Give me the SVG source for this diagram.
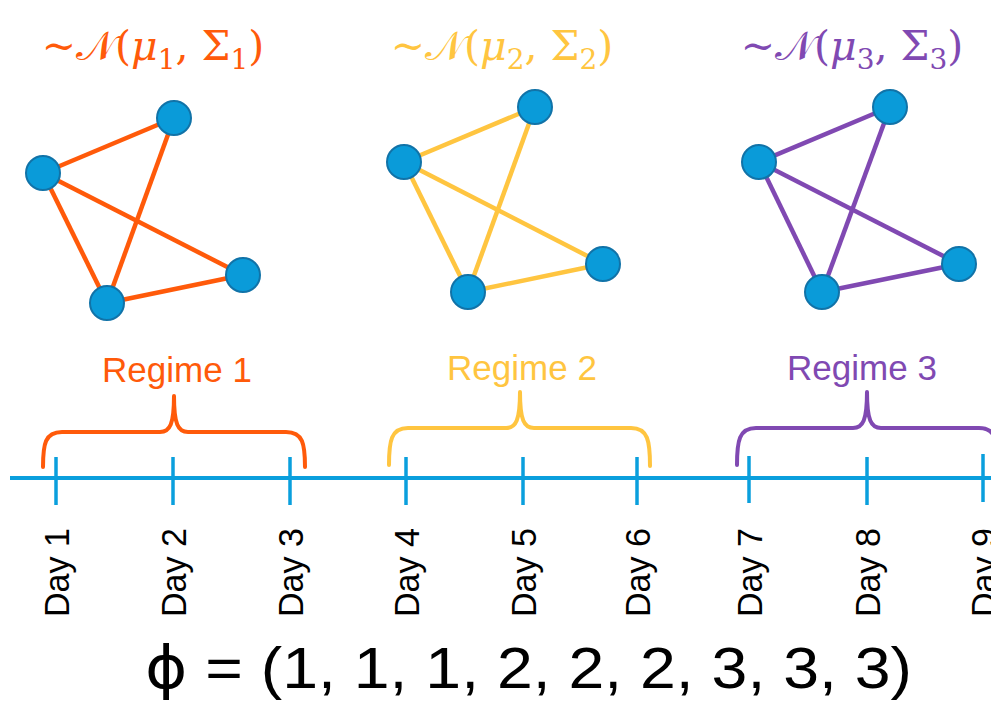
<svg xmlns="http://www.w3.org/2000/svg" width="991" height="702" viewBox="0 0 991 702">
<style>
.node{fill:#0A9BD9;stroke:#1173A8;stroke-width:2}
.e1{stroke:#FF5A0A;stroke-width:4.5;fill:none}
.e2{stroke:#FFC540;stroke-width:4.5;fill:none}
.e3{stroke:#8049B2;stroke-width:4.5;fill:none}
.brace{fill:none;stroke-width:4;stroke-linecap:round;stroke-linejoin:round}
.axis{stroke:#0A9FDD;stroke-width:4}
.tick{stroke:#0A9FDD;stroke-width:3.5}
.day{font-family:"Liberation Sans",Arial,sans-serif;font-size:35px;fill:#000}
.reg{font-family:"Liberation Sans",Arial,sans-serif;font-size:35px;text-anchor:middle}
.dist{font-family:"DejaVu Serif","Liberation Serif",serif;font-size:41px;text-anchor:middle}
.sub{font-size:28px;font-style:normal}
</style>
<rect width="991" height="702" fill="#fff"/>

<!-- distribution labels -->
<text class="dist" x="153" y="60" fill="#FF5A0A">~𝒩(<tspan font-style="italic">μ</tspan><tspan class="sub" dy="9">1</tspan><tspan dy="-9">, Σ</tspan><tspan class="sub" dy="9">1</tspan><tspan dy="-9">)</tspan></text>
<text class="dist" x="502" y="60" fill="#FFC540">~𝒩(<tspan font-style="italic">μ</tspan><tspan class="sub" dy="9">2</tspan><tspan dy="-9">, Σ</tspan><tspan class="sub" dy="9">2</tspan><tspan dy="-9">)</tspan></text>
<text class="dist" x="852" y="60" fill="#8049B2">~𝒩(<tspan font-style="italic">μ</tspan><tspan class="sub" dy="9">3</tspan><tspan dy="-9">, Σ</tspan><tspan class="sub" dy="9">3</tspan><tspan dy="-9">)</tspan></text>

<!-- connectors -->
<g id="connectors">
  <g class="e1">
    <line x1="43" y1="173" x2="174" y2="118"/>
    <line x1="43" y1="173" x2="107" y2="303"/>
    <line x1="43" y1="173" x2="243" y2="275"/>
    <line x1="174" y1="118" x2="107" y2="303"/>
    <line x1="107" y1="303" x2="243" y2="275"/>
  </g>
  <g class="e2">
    <line x1="404" y1="162" x2="535" y2="107"/>
    <line x1="404" y1="162" x2="468" y2="292"/>
    <line x1="404" y1="162" x2="603" y2="264"/>
    <line x1="535" y1="107" x2="468" y2="292"/>
    <line x1="468" y1="292" x2="603" y2="264"/>
  </g>
  <g class="e3">
    <line x1="759" y1="162" x2="890" y2="107"/>
    <line x1="759" y1="162" x2="822" y2="292"/>
    <line x1="759" y1="162" x2="959" y2="264"/>
    <line x1="890" y1="107" x2="822" y2="292"/>
    <line x1="822" y1="292" x2="959" y2="264"/>
  </g>
</g>

<!-- nodes -->
<g id="g1a"><circle class="node" cx="174" cy="118" r="17"/></g>
<g id="g1b"><circle class="node" cx="43" cy="173" r="17"/></g>
<g id="g1c"><circle class="node" cx="107" cy="303" r="17"/></g>
<g id="g1d"><circle class="node" cx="243" cy="275" r="17"/></g>
<g id="g2a"><circle class="node" cx="535" cy="107" r="17"/></g>
<g id="g2b"><circle class="node" cx="404" cy="162" r="17"/></g>
<g id="g2c"><circle class="node" cx="468" cy="292" r="17"/></g>
<g id="g2d"><circle class="node" cx="603" cy="264" r="17"/></g>
<g id="g3a"><circle class="node" cx="890" cy="107" r="17"/></g>
<g id="g3b"><circle class="node" cx="759" cy="162" r="17"/></g>
<g id="g3c"><circle class="node" cx="822" cy="292" r="17"/></g>
<g id="g3d"><circle class="node" cx="959" cy="264" r="17"/></g>

<!-- regime labels -->
<text class="reg" x="177" y="382" fill="#FF5A0A">Regime 1</text>
<text class="reg" x="522" y="380" fill="#FFC540">Regime 2</text>
<text class="reg" x="862" y="380" fill="#8049B2">Regime 3</text>

<!-- braces -->
<path class="brace" stroke="#FF5A0A" d="M43 467 C43 444 45 432 62 432 L160 432 C170 432 174 424 174 396 C174 424 178 432 188 432 L286 432 C303 432 305 444 305 467"/>
<path class="brace" stroke="#FFC540" d="M389 465 C389 441 391 428 408 428 L506 428 C516 428 520 420 520 392 C520 420 524 428 534 428 L631 428 C648 428 650 441 650 466"/>
<path class="brace" stroke="#8049B2" d="M737 465 C737 441 739 428 756 428 L853 428 C863 428 867 420 867 392 C867 420 871 428 881 428 L979 428 C996 428 998 441 998 466"/>

<!-- timeline -->
<line class="axis" x1="10" y1="478" x2="991" y2="478"/>
<g>
  <line class="tick" x1="56" y1="457" x2="56" y2="505"/>
  <line class="tick" x1="173" y1="457" x2="173" y2="505"/>
  <line class="tick" x1="290" y1="457" x2="290" y2="505"/>
  <line class="tick" x1="406" y1="457" x2="406" y2="505"/>
  <line class="tick" x1="523" y1="457" x2="523" y2="505"/>
  <line class="tick" x1="637" y1="457" x2="637" y2="505"/>
  <line class="tick" x1="749" y1="456" x2="749" y2="503"/>
  <line class="tick" x1="867" y1="457" x2="867" y2="505"/>
  <line class="tick" x1="983" y1="454" x2="983" y2="502"/>
</g>
<text class="day" transform="translate(69 617) rotate(-90)" textLength="89" lengthAdjust="spacingAndGlyphs">Day 1</text>
<text class="day" transform="translate(186 617) rotate(-90)" textLength="89" lengthAdjust="spacingAndGlyphs">Day 2</text>
<text class="day" transform="translate(303 617) rotate(-90)" textLength="89" lengthAdjust="spacingAndGlyphs">Day 3</text>
<text class="day" transform="translate(419 617) rotate(-90)" textLength="89" lengthAdjust="spacingAndGlyphs">Day 4</text>
<text class="day" transform="translate(536 617) rotate(-90)" textLength="89" lengthAdjust="spacingAndGlyphs">Day 5</text>
<text class="day" transform="translate(650 617) rotate(-90)" textLength="89" lengthAdjust="spacingAndGlyphs">Day 6</text>
<text class="day" transform="translate(762 617) rotate(-90)" textLength="89" lengthAdjust="spacingAndGlyphs">Day 7</text>
<text class="day" transform="translate(880 617) rotate(-90)" textLength="89" lengthAdjust="spacingAndGlyphs">Day 8</text>
<text class="day" transform="translate(996 617) rotate(-90)" textLength="89" lengthAdjust="spacingAndGlyphs">Day 9</text>

<!-- assignment -->
<text x="145" y="688" font-family="'Liberation Sans',Arial,sans-serif" font-size="58" textLength="767" lengthAdjust="spacingAndGlyphs" fill="#000"><tspan font-family="'DejaVu Sans',sans-serif">ϕ</tspan> = (1, 1, 1, 2, 2, 2, 3, 3, 3)</text>
</svg>
